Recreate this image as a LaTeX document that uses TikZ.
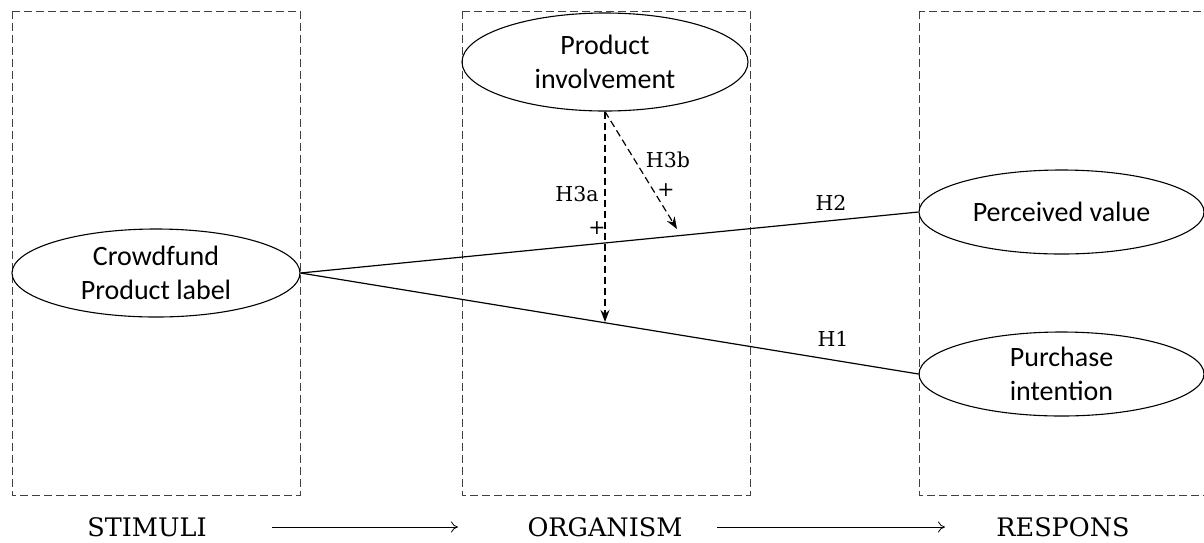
\documentclass[tikz,border=0pt]{standalone}
\usepackage{fontspec}
\setmainfont{Carlito}
\newfontfamily\typefont{DejaVu Serif}
\usetikzlibrary{shapes.geometric,arrows.meta}
\begin{document}
\begin{tikzpicture}[x=1pt,y=-1pt,
  panel/.style={draw=black!75, dash pattern=on 8pt off 4pt, line width=1pt},
  construct/.style={ellipse, draw, line width=1.1pt, inner sep=0pt,
    font=\fontsize{28}{34}\selectfont, align=center},
  hyp/.style={font=\typefont\fontsize{20.5}{22}\selectfont, inner sep=1pt},
  stage/.style={font=\typefont\fontsize{25.5}{27}\selectfont, inner sep=1pt},
  path/.style={line width=1.2pt},
  moder/.style={dash pattern=on 7pt off 4pt, line width=1.2pt, -{Stealth[length=12pt,width=9pt]}},
  flow/.style={line width=0.8pt, -{To[length=7pt,width=11pt]}}]
\useasboundingbox (0,0) rectangle (1204,542);
\begin{scope}
\clip (0,0) rectangle (1204,542);
% three stage panels
\draw[panel] (12,11) rectangle (300,495);
\draw[panel] (462,11) rectangle (750,495);
\draw[panel] (919,11) rectangle (1230,495);
\end{scope}

% constructs
\node[construct, minimum width=288pt, minimum height=88pt] (crowd) at (156,273) {Crowdfund\\Product label};
\node[construct, minimum width=286pt, minimum height=98pt] (inv) at (605,62) {Product\\involvement};
\node[construct, minimum width=285pt, minimum height=84pt] (pv) at (1061.5,212) {Perceived value};
\node[construct, minimum width=285pt, minimum height=84pt] (pi) at (1061.5,374) {Purchase\\intention};

% direct paths
\draw[path] (crowd.east) -- (pv.west);
\draw[path] (crowd.east) -- (pi.west);
\node[hyp] (h2) at (831,203) {H2};
\node[hyp] (h1) at (833,339) {H1};

% moderating paths
\coordinate (m3a) at (605,322);
\coordinate (m3b) at (677,229);
\draw[moder] (inv.south) -- (m3a);
\draw[moder] (inv.south) -- (m3b);
\node[hyp] (h3a) at (577,194) {H3a};
\node[hyp] (p3a) at (597,228) {+};
\node[hyp] (h3b) at (668,160) {H3b};
\node[hyp] (p3b) at (666,190) {+};

% S-O-R sequence
\node[stage] (s) at (147,527) {STIMULI};
\node[stage] (o) at (605,527) {ORGANISM};
\node[stage] (r) at (1063,527) {RESPONS};
\draw[flow] (272,527) -- (458,527);
\draw[flow] (717,527) -- (945,527);
\end{tikzpicture}
\end{document}
